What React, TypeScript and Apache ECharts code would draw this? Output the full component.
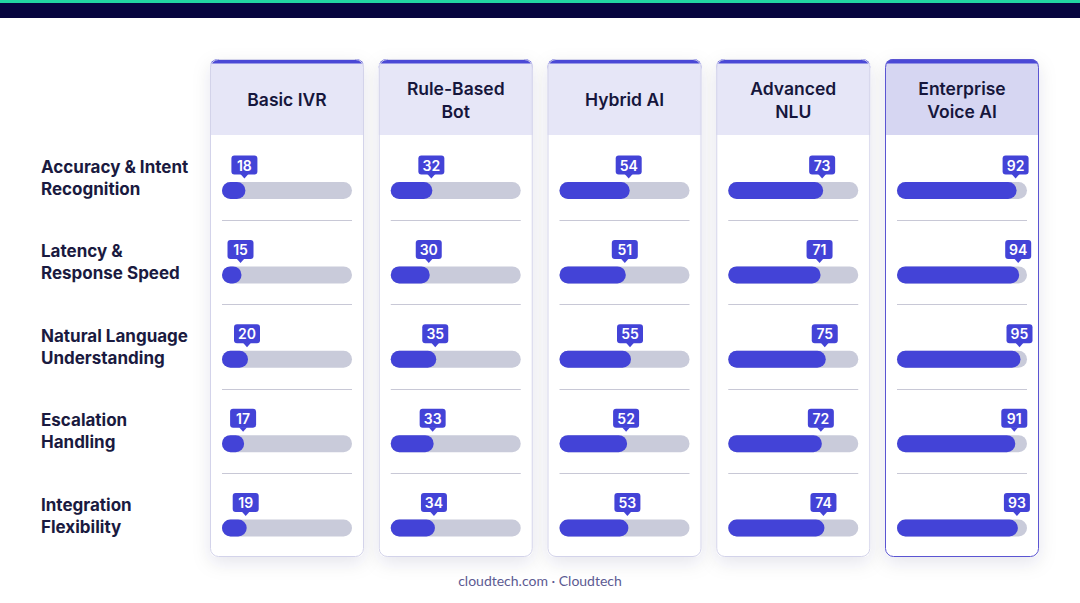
import React, { useEffect, useRef } from "react";
import * as echarts from "echarts";

const columns = ["Basic IVR", "Rule-Based\nBot", "Hybrid AI", "Advanced\nNLU", "Enterprise\nVoice AI"];
const criteria = [
  "Accuracy & Intent\nRecognition",
  "Latency &\nResponse Speed",
  "Natural Language\nUnderstanding",
  "Escalation\nHandling",
  "Integration\nFlexibility",
];
const basicIvr = [18, 15, 20, 17, 19];
const ruleBased = [32, 30, 35, 33, 34];
const hybridAi = [54, 51, 55, 52, 53];
const advancedNlu = [73, 71, 75, 72, 74];
const enterpriseVoice = [92, 94, 95, 91, 93];
const seriesValues = [basicIvr, ruleBased, hybridAi, advancedNlu, enterpriseVoice];
const footerText = "cloudtech.com · Cloudtech";

const FONT = "Lato, 'Noto Sans', sans-serif";
const BOLD_FONT = "Inter, 'Noto Sans', sans-serif";
const CARD_X0 = 210;
const CARD_PITCH = 168.75;
const CARD_W = 154;
const CARD_TOP = 59;
const CARD_H = 498;
const HEADER_TOP = 63.5;
const HEADER_H = 71.5;
const ROW_Y0 = 190.5;
const ROW_PITCH = 84.375;
const TRACK_OFF = 12;
const TRACK_W = 130;

export default function App() {
  const ref = useRef<HTMLDivElement>(null);
  useEffect(() => {
    if (!ref.current) return;
    const chart = echarts.init(ref.current, null, { renderer: "svg" });
    const grids: any[] = [];
    const xAxes: any[] = [];
    const yAxes: any[] = [];
    const series: any[] = [];
    const graphics: any[] = [];

    graphics.push({ type: "rect", shape: { x: 0, y: 0, width: 1080, height: 3 }, style: { fill: "#22d6a2" } });
    graphics.push({ type: "rect", shape: { x: 0, y: 3, width: 1080, height: 15 }, style: { fill: "#07063f" } });

    columns.forEach((col, c) => {
      const cx = CARD_X0 + c * CARD_PITCH;
      const highlight = c === columns.length - 1;
      graphics.push({
        type: "rect",
        z: 0,
        shape: { x: cx, y: CARD_TOP, width: CARD_W, height: CARD_H, r: 8 },
        style: { fill: "#ffffff", shadowBlur: 18, shadowColor: "rgba(20,20,70,0.10)", shadowOffsetY: 6 },
      });
      graphics.push({
        type: "rect",
        z: 0,
        shape: { x: cx, y: CARD_TOP, width: CARD_W, height: 16, r: 8 },
        style: { fill: "#4a48d6" },
      });
      graphics.push({
        type: "rect",
        z: 0,
        shape: { x: cx, y: HEADER_TOP, width: CARD_W, height: HEADER_H },
        style: { fill: highlight ? "#d6d6f2" : "#e6e6f7" },
      });
      graphics.push({
        type: "rect",
        z: 1,
        shape: { x: cx + 0.5, y: CARD_TOP + 0.5, width: CARD_W - 1, height: CARD_H - 1, r: 8 },
        style: { fill: "none", stroke: highlight ? "#5b55d2" : "#d3d3ea", lineWidth: 1 },
      });
      graphics.push({
        type: "text",
        z: 2,
        style: {
          text: col,
          x: cx + CARD_W / 2,
          y: 99.5,
          align: "center",
          verticalAlign: "middle",
          fill: "#16163c",
          font: `600 17.5px ${BOLD_FONT}`,
          lineHeight: 23,
        },
      });
      for (let r = 0; r < criteria.length - 1; r++) {
        const ly = Math.round(ROW_Y0 + r * ROW_PITCH + 29.5) + 0.5;
        graphics.push({
          type: "line",
          z: 2,
          shape: { x1: cx + TRACK_OFF, y1: ly, x2: cx + TRACK_OFF + TRACK_W, y2: ly },
          style: { stroke: "#c8c8d6", lineWidth: 1 },
        });
      }

      grids.push({
        left: cx + TRACK_OFF,
        width: TRACK_W,
        top: ROW_Y0 - ROW_PITCH / 2,
        height: ROW_PITCH * criteria.length,
      });
      xAxes.push({ type: "value", gridIndex: c, min: 0, max: 100, show: false });
      yAxes.push({ type: "category", gridIndex: c, data: criteria, inverse: true, show: false });
      series.push({
        type: "bar",
        xAxisIndex: c,
        yAxisIndex: c,
        data: seriesValues[c],
        barWidth: 17,
        z: 3,
        itemStyle: { color: "#4343d7", borderRadius: 8.5 },
        showBackground: true,
        backgroundStyle: { color: "#c9cbda", borderRadius: 8.5 },
      });
      series.push({
        type: "custom",
        xAxisIndex: c,
        yAxisIndex: c,
        z: 4,
        data: seriesValues[c].map((v, i) => [v, i]),
        renderItem: (params: any, api: any) => {
          const v = api.value(0);
          const p = api.coord([v, api.value(1)]);
          const x = p[0] - 1;
          const y = p[1];
          return {
            type: "group",
            children: [
              {
                type: "rect",
                shape: { x: x - 13, y: y - 35, width: 26, height: 19, r: 3 },
                style: { fill: "#4343d7" },
              },
              {
                type: "polygon",
                shape: { points: [[x - 4, y - 16.5], [x + 4, y - 16.5], [x, y - 12]] },
                style: { fill: "#4343d7" },
              },
              {
                type: "text",
                style: {
                  text: String(v),
                  x: x,
                  y: y - 25.5,
                  align: "center",
                  verticalAlign: "middle",
                  fill: "#ffffff",
                  font: `600 14px ${BOLD_FONT}`,
                },
              },
            ],
          };
        },
      });
    });

    criteria.forEach((label, r) => {
      graphics.push({
        type: "text",
        z: 2,
        style: {
          text: label,
          x: 41,
          y: ROW_Y0 + r * ROW_PITCH - 12.5,
          align: "left",
          verticalAlign: "middle",
          fill: "#1a1a40",
          font: `700 17px ${BOLD_FONT}`,
          lineHeight: 22,
        },
      });
    });

    graphics.push({
      type: "text",
      style: {
        text: footerText,
        x: 540,
        y: 580,
        align: "center",
        verticalAlign: "middle",
        fill: "#5c5a92",
        font: `14px ${FONT}`,
      },
    });

    chart.setOption({
      animation: false,
      backgroundColor: "#ffffff",
      grid: grids,
      xAxis: xAxes,
      yAxis: yAxes,
      series,
      graphic: { elements: graphics },
    });
    return () => chart.dispose();
  }, []);
  return <div ref={ref} style={{ position: "fixed", left: 0, top: 0, width: 1080, height: 603 }} />;
}
